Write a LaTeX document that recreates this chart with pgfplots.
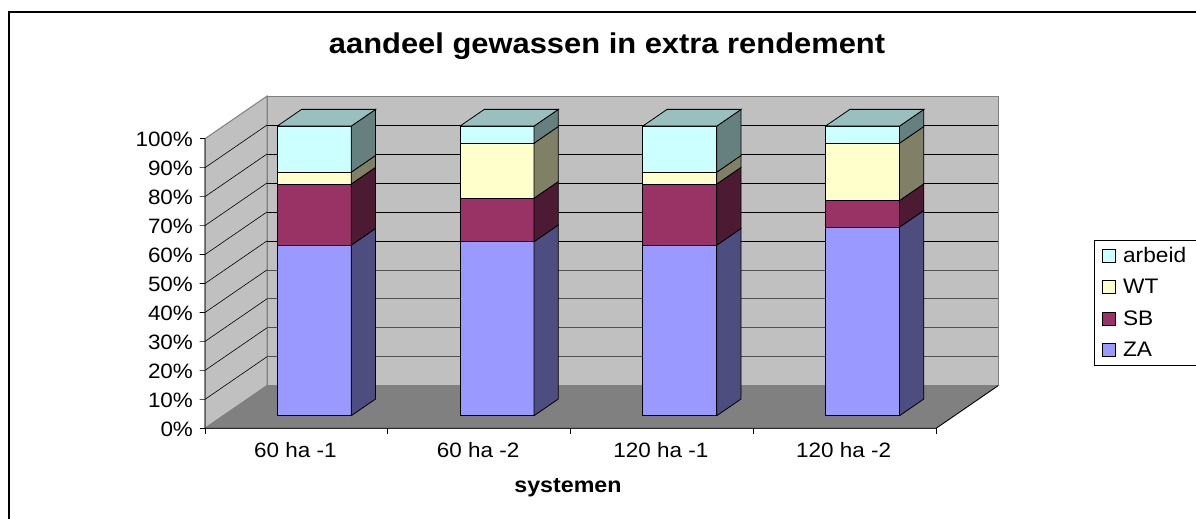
\documentclass[border=0pt]{standalone}
\usepackage{fontspec}
\setmainfont[FakeStretch=1.08]{Liberation Sans}
\usepackage{pgfplots}
\pgfplotsset{compat=1.18}
\definecolor{wall}{HTML}{C0C0C0}
\definecolor{wallline}{HTML}{808080}
\definecolor{floorc}{HTML}{808080}
\definecolor{gridlow}{HTML}{505050}
\definecolor{zaF}{HTML}{9999FF}\definecolor{zaS}{HTML}{4D4D80}
\definecolor{sbF}{HTML}{993366}\definecolor{sbS}{HTML}{4D1A33}
\definecolor{wtF}{HTML}{FFFFCC}\definecolor{wtS}{HTML}{808066}
\definecolor{arF}{HTML}{CCFFFF}\definecolor{arS}{HTML}{668080}\definecolor{arT}{HTML}{99BFBF}
% left, right, bottom of stack part, top of stack part, front colour, side colour
\newcommand{\seg}[6]{%
  \addplot3[fill=#5,draw=black,line width=0.8pt,forget plot] coordinates {(#1,0.296,#3)(#2,0.296,#3)(#2,0.296,#4)(#1,0.296,#4)(#1,0.296,#3)};
  \addplot3[fill=#6,draw=black,line width=0.8pt,forget plot] coordinates {(#2,0.296,#3)(#2,0.688,#3)(#2,0.688,#4)(#2,0.296,#4)(#2,0.296,#3)};
}
\newcommand{\topf}[2]{%
  \addplot3[fill=arT,draw=black,line width=0.8pt,forget plot] coordinates {(#1,0.296,100)(#2,0.296,100)(#2,0.688,100)(#1,0.688,100)(#1,0.296,100)};
}
\newcommand{\gridz}[2]{%
  \addplot3[#2,line width=0.7pt,forget plot] coordinates {(0,1,#1)(4,1,#1)};
  \addplot3[black,line width=0.6pt,forget plot] coordinates {(-0.03,0,#1)(0,0,#1)(0,1,#1)};
}
\begin{document}
\begin{tikzpicture}
\path[use as bounding box,fill=white] (0,0) rectangle (1196pt,519pt);
\draw[black,line width=1.5pt] (9pt,0pt) -- (9pt,507pt) -- (1196pt,507pt);
\begin{axis}[
  at={(205pt,90.7pt)},anchor=origin,
  x={(182.75pt,0pt)},y={(62pt,42.6pt)},z={(0pt,2.896pt)},
  xmin=0,xmax=4,ymin=0,ymax=1,zmin=0,zmax=100,
  clip=false,no markers,
  axis line style={draw=none},
  major tick length=0pt,
  xtick={0.5,1.5,2.5,3.5},
  xticklabels={60 ha -1,60 ha -2,120 ha -1,120 ha -2},
  ytick=\empty,
  ztick={0,10,20,30,40,50,60,70,80,90,100},
  zticklabels={0\%,10\%,20\%,30\%,40\%,50\%,60\%,70\%,80\%,90\%,100\%},
  tick label style={font=\fontsize{20.8}{24}\selectfont},
  x tick label style={anchor=center,yshift=-22pt,xshift=-1pt},
  z tick label style={anchor=east,xshift=-8.5pt,yshift=-1pt},
  title={\textbf{aandeel gewassen in extra rendement}},
  title style={at={(axis cs:2.2,0,129.9)},anchor=center,font=\fontsize{28.6}{34}\selectfont},
  xlabel={\textbf{systemen}},
  xlabel style={at={(axis cs:1.986,0,-20.6)},anchor=center,font=\fontsize{21.5}{26}\selectfont},
  legend style={at={(axis cs:4.8646,0,65.1)},anchor=north west,draw=black,line width=0.6pt,
    font=\fontsize{21}{24}\selectfont,row sep=11.5pt,inner xsep=8pt,inner ysep=5pt,cells={anchor=west},
    /tikz/every odd column/.append style={column sep=5pt}},
  legend image code/.code={\draw[#1,line width=0.8pt] (0pt,-6.5pt) rectangle (13pt,6.5pt);},
]
% walls
\addplot3[fill=wall,draw=wallline,line width=1pt,forget plot] coordinates {(0,0,0)(0,1,0)(0,1,100)(0,0,100)(0,0,0)};
\addplot3[fill=wall,draw=wallline,line width=1pt,forget plot] coordinates {(0,1,0)(4,1,0)(4,1,100)(0,1,100)(0,1,0)};
\addplot3[fill=floorc,draw=wallline,line width=1pt,forget plot] coordinates {(0,0,0)(4,0,0)(4,1,0)(0,1,0)(0,0,0)};
% gridlines
\gridz{10}{gridlow}\gridz{20}{gridlow}\gridz{30}{gridlow}\gridz{40}{gridlow}\gridz{50}{black}\gridz{60}{black}\gridz{70}{black}\gridz{80}{black}\gridz{90}{black}
\addplot3[black,line width=0.6pt,forget plot] coordinates {(-0.03,0,100)(0,0,100)};
\addplot3[black,line width=0.6pt,forget plot] coordinates {(-0.03,0,0)(0,0,0)};
% axis lines and ticks
\addplot3[black,line width=0.8pt,forget plot] coordinates {(0,0,100)(0,0,0)(4,0,0)(4,1,0)};
\addplot3[black,line width=0.6pt,forget plot] coordinates {(0,0,0)(0,0,-2)};
\addplot3[black,line width=0.6pt,forget plot] coordinates {(1,0,0)(1,0,-2)};
\addplot3[black,line width=0.6pt,forget plot] coordinates {(2,0,0)(2,0,-2)};
\addplot3[black,line width=0.6pt,forget plot] coordinates {(3,0,0)(3,0,-2)};
\addplot3[black,line width=0.6pt,forget plot] coordinates {(4,0,0)(4,0,-2)};
% bars: ZA, SB, WT, arbeid (cumulative percentages)
\seg{0.295}{0.70}{0}{58.9}{zaF}{zaS}\seg{0.295}{0.70}{58.9}{80.0}{sbF}{sbS}\seg{0.295}{0.70}{80.0}{84.1}{wtF}{wtS}\seg{0.295}{0.70}{84.1}{100}{arF}{arS}\topf{0.295}{0.70}
\seg{1.295}{1.70}{0}{60.1}{zaF}{zaS}\seg{1.295}{1.70}{60.1}{75.1}{sbF}{sbS}\seg{1.295}{1.70}{75.1}{94.1}{wtF}{wtS}\seg{1.295}{1.70}{94.1}{100}{arF}{arS}\topf{1.295}{1.70}
\seg{2.295}{2.70}{0}{58.9}{zaF}{zaS}\seg{2.295}{2.70}{58.9}{80.0}{sbF}{sbS}\seg{2.295}{2.70}{80.0}{84.1}{wtF}{wtS}\seg{2.295}{2.70}{84.1}{100}{arF}{arS}\topf{2.295}{2.70}
\seg{3.295}{3.70}{0}{65.1}{zaF}{zaS}\seg{3.295}{3.70}{65.1}{74.3}{sbF}{sbS}\seg{3.295}{3.70}{74.3}{94.1}{wtF}{wtS}\seg{3.295}{3.70}{94.1}{100}{arF}{arS}\topf{3.295}{3.70}
\addlegendimage{fill=arF,draw=black}\addlegendentry{arbeid}
\addlegendimage{fill=wtF,draw=black}\addlegendentry{WT}
\addlegendimage{fill=sbF,draw=black}\addlegendentry{SB}
\addlegendimage{fill=zaF,draw=black}\addlegendentry{ZA}
\end{axis}
\end{tikzpicture}
\end{document}
